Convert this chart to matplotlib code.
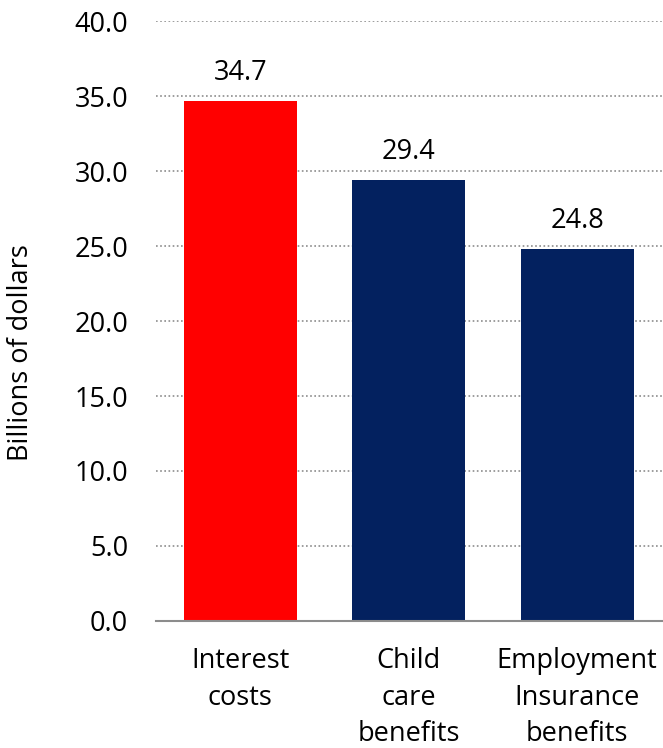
import matplotlib.pyplot as plt

# data
categories = ['Interest\ncosts', 'Child\ncare\nbenefits', 'Employment\nInsurance\nbenefits']
values = [34.7, 29.4, 24.8]
bar_colors = ['#FF0000', '#03215F', '#03215F']
y_ticks = [0, 5, 10, 15, 20, 25, 30, 35, 40]

plt.rcParams['font.family'] = ['Open Sans', 'DejaVu Sans']

fig = plt.figure(figsize=(6.63, 7.48), dpi=100)
ax = fig.add_axes([0.2353, 0.1698, 0.7647, 0.8021])

x = range(len(categories))
bars = ax.bar(x, values, width=0.67, color=bar_colors, zorder=3)

# value labels above bars
for b, v in zip(bars, values):
    ax.annotate(f'{v:.1f}', (b.get_x() + b.get_width() / 2, v), xytext=(0, 10),
                textcoords='offset points', ha='center', va='bottom', fontsize=19.5)

ax.set_ylim(0, 40)
ax.set_xlim(-0.5, 2.51)
ax.set_yticks(y_ticks)
ax.set_yticklabels([f'{t:.1f}' for t in y_ticks], fontsize=19.5)
ax.set_xticks(list(x))
ax.set_xticklabels(categories, fontsize=19.5, linespacing=1.4)
ax.tick_params(axis='y', length=0, pad=20)
ax.tick_params(axis='x', length=0, pad=19)

# dotted gridlines (skip zero, that's the axis line)
for t in y_ticks[1:]:
    ax.axhline(t, color='#8C8C8C', linestyle=(0, (1, 1.5)), linewidth=1.2, zorder=1)

for s in ['top', 'right', 'left']:
    ax.spines[s].set_visible(False)
ax.spines['bottom'].set_color('#8C8C8C')
ax.spines['bottom'].set_linewidth(1.5)
ax.spines['bottom'].set_zorder(4)

ax.set_ylabel('Billions of dollars', fontsize=19.5)
ax.yaxis.set_label_coords(-0.239, 0.448)

fig.savefig('out.png', dpi=100)
